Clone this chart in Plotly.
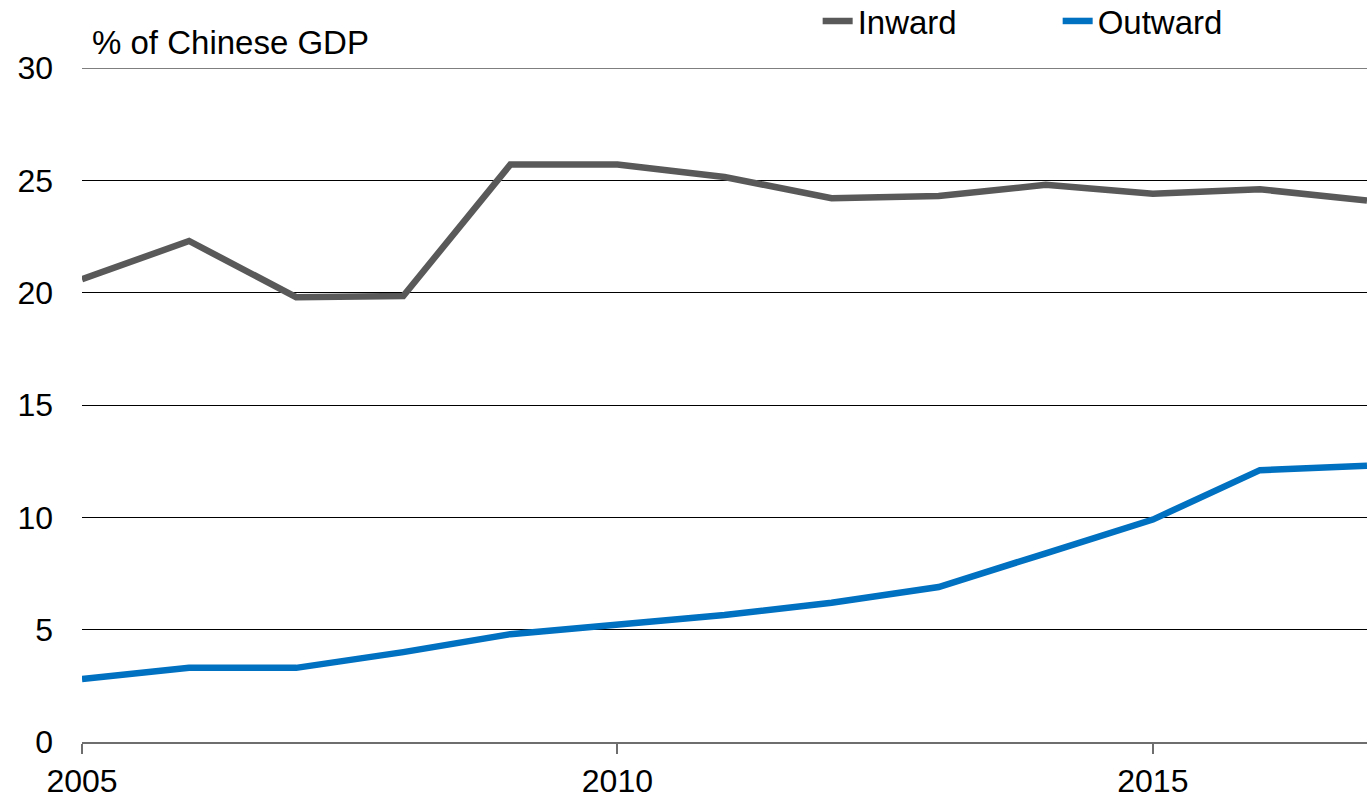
import plotly.graph_objects as go

years = list(range(2005, 2018))
inward = [20.6, 22.3, 19.8, 19.85, 25.7, 25.7, 25.15, 24.2, 24.3, 24.8, 24.4, 24.6, 24.1]
outward = [2.8, 3.3, 3.3, 4.0, 4.8, 5.2, 5.65, 6.2, 6.9, 8.4, 9.9, 12.1, 12.3]
x_ticks = [2005, 2010, 2015]
y_ticks = [0, 5, 10, 15, 20, 25, 30]

FONT = "Liberation Sans, Arial, sans-serif"

fig = go.Figure()
fig.add_trace(go.Scatter(x=years, y=inward, mode="lines", name="Inward",
                         line=dict(color="#595959", width=6.5), cliponaxis=False))
fig.add_trace(go.Scatter(x=years, y=outward, mode="lines", name="Outward",
                         line=dict(color="#0070C0", width=6.5), cliponaxis=False))

# top gridline (plotly drops gridlines at the range edge)
fig.add_hline(y=y_ticks[-1], line=dict(color="#000000", width=1), layer="below")

fig.update_layout(
    width=1367, height=800,
    margin=dict(l=82, r=0, t=68, b=58, autoexpand=False),
    paper_bgcolor="white", plot_bgcolor="white",
    font=dict(family=FONT, size=32, color="#000000"),
    showlegend=True,
    legend=dict(orientation="h", x=0.5725, y=1 + 75 / 674, xanchor="left", yanchor="top",
                font=dict(size=33), tracegroupgap=0,
                bgcolor="rgba(0,0,0,0)", entrywidth=195, entrywidthmode="pixels"),
    xaxis=dict(range=[2005, 2017], tickvals=x_ticks, ticktext=[str(t) for t in x_ticks],
               showgrid=False, zeroline=False, showline=True, linecolor="#6e6e6e",
               linewidth=2, ticks="outside", ticklen=10, tickcolor="#6e6e6e",
               tickwidth=2, tickfont=dict(size=32), ticklabelstandoff=0,
               automargin=False),
    yaxis=dict(range=[0, 30], tickvals=y_ticks, showgrid=True, gridcolor="#000000",
               gridwidth=1, zeroline=False, showline=False, ticks="",
               tickfont=dict(size=32), ticklabelstandoff=28, automargin=False),
    annotations=[dict(text="% of Chinese GDP", xref="paper", yref="paper",
                      x=0.0065, y=1.0, xanchor="left", yanchor="middle", yshift=26,
                      showarrow=False, font=dict(size=33, family=FONT))],
)

fig.write_html("out.html", config={"displayModeBar": False},
               post_script="document.body.style.margin='0';document.body.style.padding='0';")
